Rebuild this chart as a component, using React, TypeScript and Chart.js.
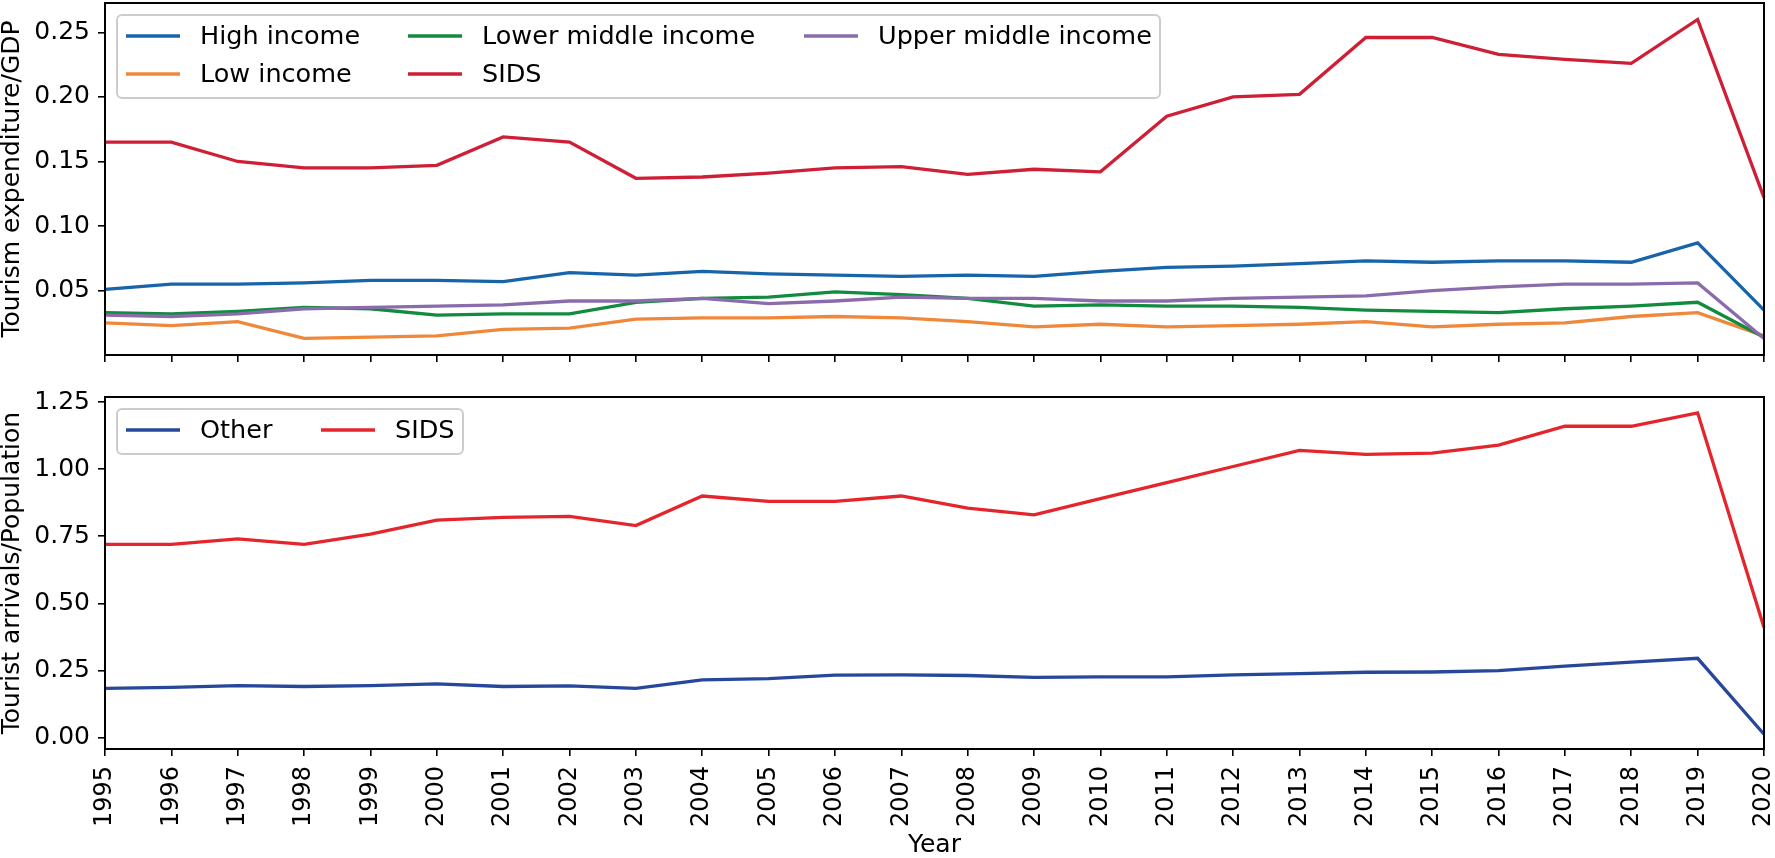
import React, { useEffect, useRef } from 'react';
import { Chart, registerables } from 'chart.js';

Chart.register(...registerables);

const years = ['1995', '1996', '1997', '1998', '1999', '2000', '2001', '2002', '2003', '2004', '2005', '2006', '2007',
  '2008', '2009', '2010', '2011', '2012', '2013', '2014', '2015', '2016', '2017', '2018', '2019', '2020'];

const highIncome = [0.051, 0.055, 0.055, 0.056, 0.058, 0.058, 0.057, 0.064, 0.062, 0.065, 0.063, 0.062, 0.061,
  0.062, 0.061, 0.065, 0.068, 0.069, 0.071, 0.073, 0.072, 0.073, 0.073, 0.072, 0.087, 0.035];
const lowIncome = [0.025, 0.023, 0.026, 0.013, 0.014, 0.015, 0.020, 0.021, 0.028, 0.029, 0.029, 0.030, 0.029,
  0.026, 0.022, 0.024, 0.022, 0.023, 0.024, 0.026, 0.022, 0.024, 0.025, 0.030, 0.033, 0.015];
const lowerMiddleIncome = [0.033, 0.032, 0.034, 0.037, 0.036, 0.031, 0.032, 0.032, 0.041, 0.044, 0.045, 0.049, 0.047,
  0.044, 0.038, 0.039, 0.038, 0.038, 0.037, 0.035, 0.034, 0.033, 0.036, 0.038, 0.041, 0.014];
const sidsExpenditure = [0.165, 0.165, 0.150, 0.145, 0.145, 0.147, 0.169, 0.165, 0.137, 0.138, 0.141, 0.145, 0.146,
  0.140, 0.144, 0.142, 0.185, 0.200, 0.202, 0.246, 0.246, 0.233, 0.229, 0.226, 0.260, 0.122];
const upperMiddleIncome = [0.031, 0.030, 0.032, 0.036, 0.037, 0.038, 0.039, 0.042, 0.042, 0.044, 0.040, 0.042, 0.045,
  0.044, 0.044, 0.042, 0.042, 0.044, 0.045, 0.046, 0.050, 0.053, 0.055, 0.055, 0.056, 0.013];

const otherArrivals = [0.183, 0.187, 0.193, 0.190, 0.193, 0.200, 0.190, 0.192, 0.183, 0.215, 0.219, 0.232, 0.233,
  0.231, 0.224, 0.226, 0.226, 0.233, 0.238, 0.243, 0.244, 0.249, 0.266, 0.281, 0.295, 0.012];
const sidsArrivals = [0.72, 0.72, 0.74, 0.72, 0.758, 0.81, 0.82, 0.824, 0.79, 0.90, 0.88, 0.88, 0.90,
  0.855, 0.83, 0.89, 0.95, 1.01, 1.07, 1.055, 1.06, 1.09, 1.16, 1.16, 1.21, 0.41];

const expenditureTicks = [0.05, 0.10, 0.15, 0.20, 0.25];
const arrivalsTicks = [0.0, 0.25, 0.5, 0.75, 1.0, 1.25];

const FONT = "'DejaVu Sans', 'Liberation Sans', sans-serif";
const W = 1775;

type LegendItem = { index: number; x: number; y: number };
type LegendCfg = { left: number; top: number; w: number; h: number; items: LegendItem[] };

function frameLegendPlugin(legend: LegendCfg) {
  return {
    id: 'frameLegend',
    afterDatasetsDraw(chart: any) {
      const { ctx, chartArea: a } = chart;
      ctx.save();
      ctx.strokeStyle = '#000';
      ctx.lineWidth = 2;
      ctx.strokeRect(a.left, a.top, a.right - a.left, a.bottom - a.top);

      const bx = a.left + legend.left;
      const by = a.top + legend.top;
      const r = 5;
      ctx.beginPath();
      ctx.moveTo(bx + r, by);
      ctx.lineTo(bx + legend.w - r, by);
      ctx.arcTo(bx + legend.w, by, bx + legend.w, by + r, r);
      ctx.lineTo(bx + legend.w, by + legend.h - r);
      ctx.arcTo(bx + legend.w, by + legend.h, bx + legend.w - r, by + legend.h, r);
      ctx.lineTo(bx + r, by + legend.h);
      ctx.arcTo(bx, by + legend.h, bx, by + legend.h - r, r);
      ctx.lineTo(bx, by + r);
      ctx.arcTo(bx, by, bx + r, by, r);
      ctx.closePath();
      ctx.fillStyle = 'rgba(255,255,255,0.8)';
      ctx.fill();
      ctx.strokeStyle = '#cccccc';
      ctx.lineWidth = 2;
      ctx.stroke();

      legend.items.forEach((it) => {
        const ds = chart.data.datasets[it.index];
        const x = bx + it.x;
        const y = by + it.y;
        ctx.strokeStyle = ds.borderColor;
        ctx.lineWidth = 3.3;
        ctx.beginPath();
        ctx.moveTo(x, y);
        ctx.lineTo(x + 54, y);
        ctx.stroke();
        ctx.fillStyle = '#000';
        ctx.font = `25.5px ${FONT}`;
        ctx.textAlign = 'left';
        ctx.textBaseline = 'middle';
        ctx.fillText(ds.label, x + 74, y + 1);
      });
      ctx.restore();
    },
  };
}

function lineDs(label: string, data: number[], color: string, order: number) {
  return {
    label,
    data,
    borderColor: color,
    backgroundColor: color,
    borderWidth: 3.3,
    pointRadius: 0,
    tension: 0,
    fill: false,
    order,
  };
}

function yScale(min: number, max: number, ticks: number[], title: string) {
  return {
    type: 'linear',
    min,
    max,
    afterBuildTicks: (s: any) => {
      s.ticks = ticks.map((v) => ({ value: v }));
    },
    afterFit: (s: any) => {
      s.width = 105;
      s.paddingTop = 0;
      s.paddingBottom = 0;
    },
    border: { display: false },
    grid: { display: true, drawOnChartArea: false, drawTicks: true, tickLength: 7, color: '#000', lineWidth: 1.6 },
    ticks: {
      padding: 8,
      color: '#000',
      font: { family: FONT, size: 25 },
      callback: (v: any) => Number(v).toFixed(2),
    },
    title: { display: true, text: title, color: '#000', font: { family: FONT, size: 25, lineHeight: 1 }, padding: { top: 0, bottom: 0 } },
  };
}

function xGrid() {
  return { display: true, drawOnChartArea: false, drawTicks: true, tickLength: 7, color: '#000', lineWidth: 1.6, offset: false };
}

export default function App() {
  const topRef = useRef<HTMLCanvasElement | null>(null);
  const botRef = useRef<HTMLCanvasElement | null>(null);

  useEffect(() => {
    Chart.defaults.font.family = FONT;
    Chart.defaults.color = '#000';

    const top = new Chart(topRef.current as HTMLCanvasElement, {
      type: 'line',
      data: {
        labels: years,
        datasets: [
          lineDs('High income', highIncome, '#1764ab', 5),
          lineDs('Low income', lowIncome, '#f0883c', 4),
          lineDs('Lower middle income', lowerMiddleIncome, '#138b3f', 3),
          lineDs('SIDS', sidsExpenditure, '#ce1f36', 2),
          lineDs('Upper middle income', upperMiddleIncome, '#8a6bac', 1),
        ],
      },
      options: {
        animation: false,
        responsive: false,
        devicePixelRatio: 1,
        layout: { padding: { top: 3, right: 11, left: 0, bottom: 0 } },
        plugins: { legend: { display: false }, tooltip: { enabled: false } },
        scales: {
          x: {
            type: 'category',
            offset: false,
            afterFit: (s: any) => {
              s.height = 25;
              s.paddingLeft = 0;
              s.paddingRight = 0;
            },
            border: { display: false },
            grid: xGrid(),
            ticks: { display: false, autoSkip: false },
          },
          y: yScale(0.0002, 0.2727, expenditureTicks, 'Tourism expenditure/GDP'),
        },
      } as any,
      plugins: [
        frameLegendPlugin({
          left: 12,
          top: 12,
          w: 1043,
          h: 83,
          items: [
            { index: 0, x: 9, y: 21 },
            { index: 1, x: 9, y: 59 },
            { index: 2, x: 291, y: 21 },
            { index: 3, x: 291, y: 59 },
            { index: 4, x: 687, y: 21 },
          ],
        }),
      ],
    });

    const bot = new Chart(botRef.current as HTMLCanvasElement, {
      type: 'line',
      data: {
        labels: years,
        datasets: [
          lineDs('Other', otherArrivals, '#27479b', 2),
          lineDs('SIDS', sidsArrivals, '#e4262c', 1),
        ],
      },
      options: {
        animation: false,
        responsive: false,
        devicePixelRatio: 1,
        layout: { padding: { top: 17, right: 11, left: 0, bottom: 0 } },
        plugins: { legend: { display: false }, tooltip: { enabled: false } },
        scales: {
          x: {
            type: 'category',
            offset: false,
            afterFit: (s: any) => {
              s.height = 109;
              s.paddingLeft = 0;
              s.paddingRight = 0;
            },
            border: { display: false },
            grid: xGrid(),
            ticks: {
              autoSkip: false,
              minRotation: 90,
              maxRotation: 90,
              padding: 10,
              color: '#000',
              font: { family: FONT, size: 24 },
            },
            title: { display: true, text: 'Year', color: '#000', font: { family: FONT, size: 25, lineHeight: 1 }, padding: { top: 0, bottom: 0 } },
          },
          y: yScale(-0.043, 1.269, arrivalsTicks, 'Tourist arrivals/Population'),
        },
      } as any,
      plugins: [
        frameLegendPlugin({
          left: 12,
          top: 12,
          w: 346,
          h: 45,
          items: [
            { index: 0, x: 9, y: 21 },
            { index: 1, x: 204, y: 21 },
          ],
        }),
      ],
    });

    return () => {
      top.destroy();
      bot.destroy();
    };
  }, []);

  return (
    <div style={{ position: 'absolute', left: 0, top: 0, width: W, height: 858, background: '#fff' }}>
      <canvas ref={topRef} width={W} height={380} style={{ position: 'absolute', left: 0, top: 0, width: W, height: 380 }} />
      <canvas ref={botRef} width={W} height={478} style={{ position: 'absolute', left: 0, top: 380, width: W, height: 478 }} />
    </div>
  );
}
